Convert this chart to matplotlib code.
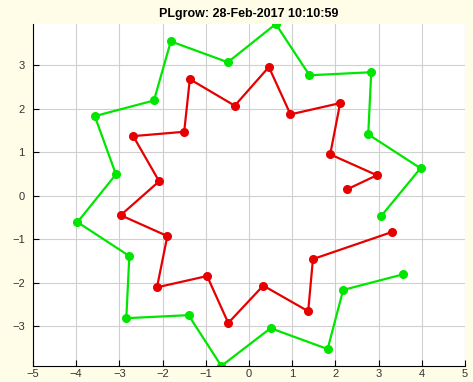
import matplotlib
matplotlib.use('Agg')
import matplotlib.pyplot as plt

# Points (inner red spiral, outer green spiral)
red_x = [2.28, 2.96, 1.88, 2.11, 0.96, 0.46, -0.33, -1.37, -1.50, -2.68,
         -2.08, -2.97, -1.89, -2.13, -0.97, -0.48, 0.33, 1.37, 1.48, 3.30]
red_y = [0.15, 0.47, 0.95, 2.13, 1.87, 2.96, 2.07, 2.68, 1.47, 1.37,
         0.33, -0.45, -0.93, -2.11, -1.85, -2.93, -2.07, -2.66, -1.46, -0.84]
green_x = [3.06, 3.97, 2.76, 2.83, 1.40, 0.62, -0.49, -1.81, -2.20, -3.57,
           -3.08, -3.97, -2.77, -2.84, -1.40, -0.64, 0.50, 1.82, 2.18, 3.57]
green_y = [-0.47, 0.63, 1.41, 2.84, 2.77, 3.95, 3.07, 3.55, 2.19, 1.83,
           0.49, -0.61, -1.39, -2.82, -2.75, -3.92, -3.05, -3.53, -2.17, -1.81]
title = 'PLgrow: 28-Feb-2017 10:10:59'
xticks = [-5, -4, -3, -2, -1, 0, 1, 2, 3, 4, 5]
yticks = [-3, -2, -1, 0, 1, 2, 3]

plt.rcParams['font.family'] = ['Liberation Sans', 'DejaVu Sans']

fig = plt.figure(figsize=(4.73, 3.82), dpi=100, facecolor='#fffde8')
ax = fig.add_axes([33 / 473, 16 / 382, 432 / 473, 342 / 382])

ax.plot(red_x, red_y, '-o', color='#e60000', lw=1.6, ms=5.5)
ax.plot(green_x, green_y, '-o', color='#00e600', lw=1.6, ms=5.5)

ax.set_xlim(-5, 5)
ax.set_ylim(min(green_y), max(green_y))
ax.set_xticks(xticks)
ax.set_yticks(yticks)
ax.grid(True, color='#d0d0d0', lw=0.8)
ax.set_axisbelow(True)
ax.spines['top'].set_visible(False)
ax.spines['right'].set_visible(False)
ax.tick_params(direction='in', length=4, labelsize=8, labelcolor='#333333')
ax.tick_params(axis='x', pad=2.5)
ax.tick_params(axis='y', pad=6)
ax.set_title(title, fontsize=9, fontweight='bold', pad=5)

fig.savefig('out.png', dpi=100, facecolor=fig.get_facecolor())
